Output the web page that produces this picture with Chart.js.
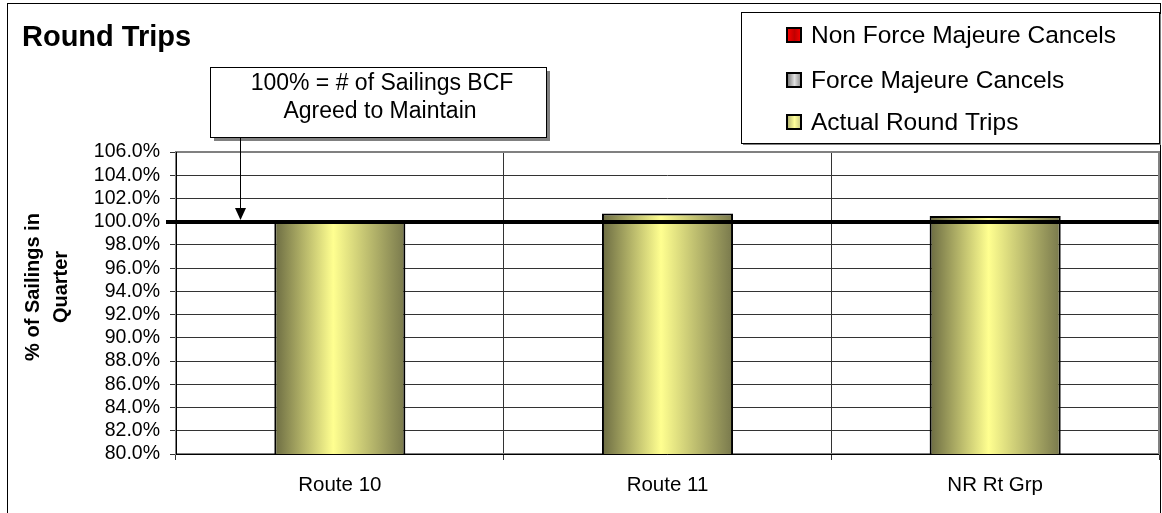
<!DOCTYPE html>
<html>
<head>
<meta charset="utf-8">
<title>Round Trips</title>
<script src="https://cdn.jsdelivr.net/npm/chart.js@4"></script>
<style>
  html, body { margin: 0; padding: 0; background: #fff; }
  canvas { display: block; }
</style>
</head>
<body>
<canvas id="chart" width="1162" height="513"></canvas>
<script>
// Data
const routes = ['Route 10', 'Route 11', 'NR Rt Grp'];
const actualRoundTrips = [100.0, 100.7, 100.5];
const forceMajeureCancels = [0, 0, 0];
const nonForceMajeureCancels = [0, 0, 0];
const seriesNames = ['Actual Round Trips', 'Force Majeure Cancels', 'Non Force Majeure Cancels'];
const yMin = 80, yMax = 106, yStep = 2;
const targetLevel = 100;
const noteLines = ['100% = # of Sailings BCF', 'Agreed to Maintain'];
const yTitleLines = ['% of Sailings in', 'Quarter'];

const FONT = "'Liberation Sans', Arial, sans-serif";
const BAR_PCT = 0.4;

// horizontal shading like the old Excel cylinder-ish bars
function barGradient(ctx, dark, light, darkR) {
    const chart = ctx.chart;
    if (!chart.chartArea) return light;
    const x = chart.scales.x;
    const cx = x.getPixelForValue(ctx.dataIndex);
    const w = x.width / routes.length * BAR_PCT;
    const g = chart.ctx.createLinearGradient(cx - w / 2, 0, cx + w / 2, 0);
    g.addColorStop(0, dark);
    g.addColorStop(0.45, light);
    g.addColorStop(1, darkR || dark);
    return g;
}

// everything Excel put around the plot: frame, title, legend, note, 100% line
const decorations = {
    id: 'decorations',
    beforeDraw(chart) {
        const c = chart.ctx;
        c.save();
        c.fillStyle = '#fff';
        c.fillRect(0, 0, chart.width, chart.height);
        c.strokeStyle = '#000';
        c.lineWidth = 1;
        c.strokeRect(7.5, 3.5, 1153, 520);
        c.restore();
    },
    beforeDatasetsDraw(chart) {
        const c = chart.ctx, a = chart.chartArea;
        c.save();
        c.strokeStyle = '#808080';
        c.lineWidth = 2;
        c.strokeRect(a.left, a.top, a.right - a.left, a.bottom - a.top);
        c.strokeStyle = '#000';
        c.lineWidth = 1;
        c.beginPath();
        c.moveTo(a.left + 0.5, a.top);
        c.lineTo(a.left + 0.5, a.bottom);
        c.moveTo(a.left, a.bottom + 0.5);
        c.lineTo(a.right, a.bottom + 0.5);
        c.stroke();
        c.restore();
    },
    afterDatasetsDraw(chart) {
        const c = chart.ctx, a = chart.chartArea;
        const y100 = Math.round(chart.scales.y.getPixelForValue(targetLevel));
        c.save();
        c.fillStyle = '#000';
        c.fillRect(166, y100 - 2, a.right - 166, 4);
        c.restore();
    },
    afterDraw(chart) {
        const c = chart.ctx;
        const y100 = Math.round(chart.scales.y.getPixelForValue(targetLevel));
        c.save();

        // title
        c.fillStyle = '#000';
        c.font = 'bold 29px ' + FONT;
        c.textAlign = 'left';
        c.textBaseline = 'alphabetic';
        c.fillText('Round Trips', 22, 46);

        // y axis title
        c.save();
        c.translate(47, 287);
        c.rotate(-Math.PI / 2);
        c.font = 'bold 20px ' + FONT;
        c.textAlign = 'center';
        c.textBaseline = 'middle';
        c.fillText(yTitleLines[0], 0, -14);
        c.fillText(yTitleLines[1], 0, 14);
        c.restore();

        // note box with shadow
        const bx = 210, by = 67, bw = 336, bh = 70;
        c.fillStyle = '#808080';
        c.fillRect(bx + 4, by + 4, bw, bh);
        c.fillStyle = '#fff';
        c.fillRect(bx, by, bw, bh);
        c.strokeStyle = '#000';
        c.lineWidth = 1;
        c.strokeRect(bx + 0.5, by + 0.5, bw, bh);
        c.fillStyle = '#000';
        c.font = '23px ' + FONT;
        c.textAlign = 'center';
        c.fillText(noteLines[0], bx + bw / 2 + 4, 90);
        c.fillText(noteLines[1], bx + bw / 2 + 2, 118);

        // arrow down to 100%
        c.beginPath();
        c.moveTo(240.5, by + bh + 1);
        c.lineTo(240.5, y100 - 12);
        c.stroke();
        c.beginPath();
        c.moveTo(235, y100 - 14);
        c.lineTo(246, y100 - 14);
        c.lineTo(240.5, y100 - 2);
        c.closePath();
        c.fill();

        // legend box with shadow, entries in reverse stack order
        const lx = 741, ly = 12, lw = 418, lh = 131;
        c.fillStyle = '#808080';
        c.fillRect(lx + 2, ly + 2, lw, lh);
        c.fillStyle = '#fff';
        c.fillRect(lx, ly, lw, lh);
        c.strokeStyle = '#000';
        c.strokeRect(lx + 0.5, ly + 0.5, lw, lh);
        const rows = [35, 80, 122];
        const swatches = [['#ff0000', '#c00000', '#ff0000'], ['#707070', '#e0e0e0', '#808080'], ['#b0b070', '#ffff99', '#c0c080']];
        const names = seriesNames.slice().reverse();
        c.font = '24.5px ' + FONT;
        c.textAlign = 'left';
        c.textBaseline = 'middle';
        names.forEach((name, i) => {
            const cy = rows[i];
            const g = c.createLinearGradient(787, 0, 802, 0);
            g.addColorStop(0, swatches[i][0]);
            g.addColorStop(0.5, swatches[i][1]);
            g.addColorStop(1, swatches[i][2]);
            c.fillStyle = g;
            c.fillRect(786, cy - 8, 16, 16);
            c.strokeStyle = '#000';
            c.lineWidth = 2;
            c.strokeRect(787, cy - 7, 14, 14);
            c.fillStyle = '#000';
            c.fillText(name, 811, cy + 1);
        });
        c.restore();
    }
};

new Chart(document.getElementById('chart'), {
    type: 'bar',
    data: {
        labels: routes,
        datasets: [
            {
                label: seriesNames[0],
                data: actualRoundTrips,
                backgroundColor: ctx => barGradient(ctx, '#6b6b42', '#ffff90', '#78784c'),
                borderColor: '#000',
                borderWidth: 2,
                borderSkipped: false
            },
            {
                label: seriesNames[1],
                data: forceMajeureCancels,
                backgroundColor: ctx => barGradient(ctx, '#606060', '#e0e0e0'),
                borderColor: '#000',
                borderWidth: 0
            },
            {
                label: seriesNames[2],
                data: nonForceMajeureCancels,
                backgroundColor: '#ff0000',
                borderColor: '#000',
                borderWidth: 0
            }
        ]
    },
    options: {
        responsive: false,
        animation: false,
        events: [],
        layout: { padding: { left: 0, top: 152, right: 3, bottom: 0 } },
        datasets: { bar: { barPercentage: BAR_PCT, categoryPercentage: 1 } },
        plugins: {
            legend: { display: false },
            tooltip: { enabled: false },
            title: { display: false }
        },
        scales: {
            x: {
                stacked: true,
                afterFit: s => { s.height = 59; },
                grid: { color: '#333', lineWidth: 1, tickLength: 6, offset: true },
                border: { display: false },
                ticks: { color: '#000', font: { family: FONT, size: 20.5 }, padding: 13 }
            },
            y: {
                stacked: true,
                min: yMin,
                max: yMax,
                afterFit: s => { s.width = 176; },
                grid: { color: '#333', lineWidth: 1, tickLength: 6 },
                border: { display: false },
                ticks: {
                    stepSize: yStep,
                    autoSkip: false,
                    color: '#000',
                    font: { family: FONT, size: 19.5 },
                    padding: 10,
                    callback: v => v.toFixed(1) + '%'
                }
            }
        }
    },
    plugins: [decorations]
});
</script>
</body>
</html>
